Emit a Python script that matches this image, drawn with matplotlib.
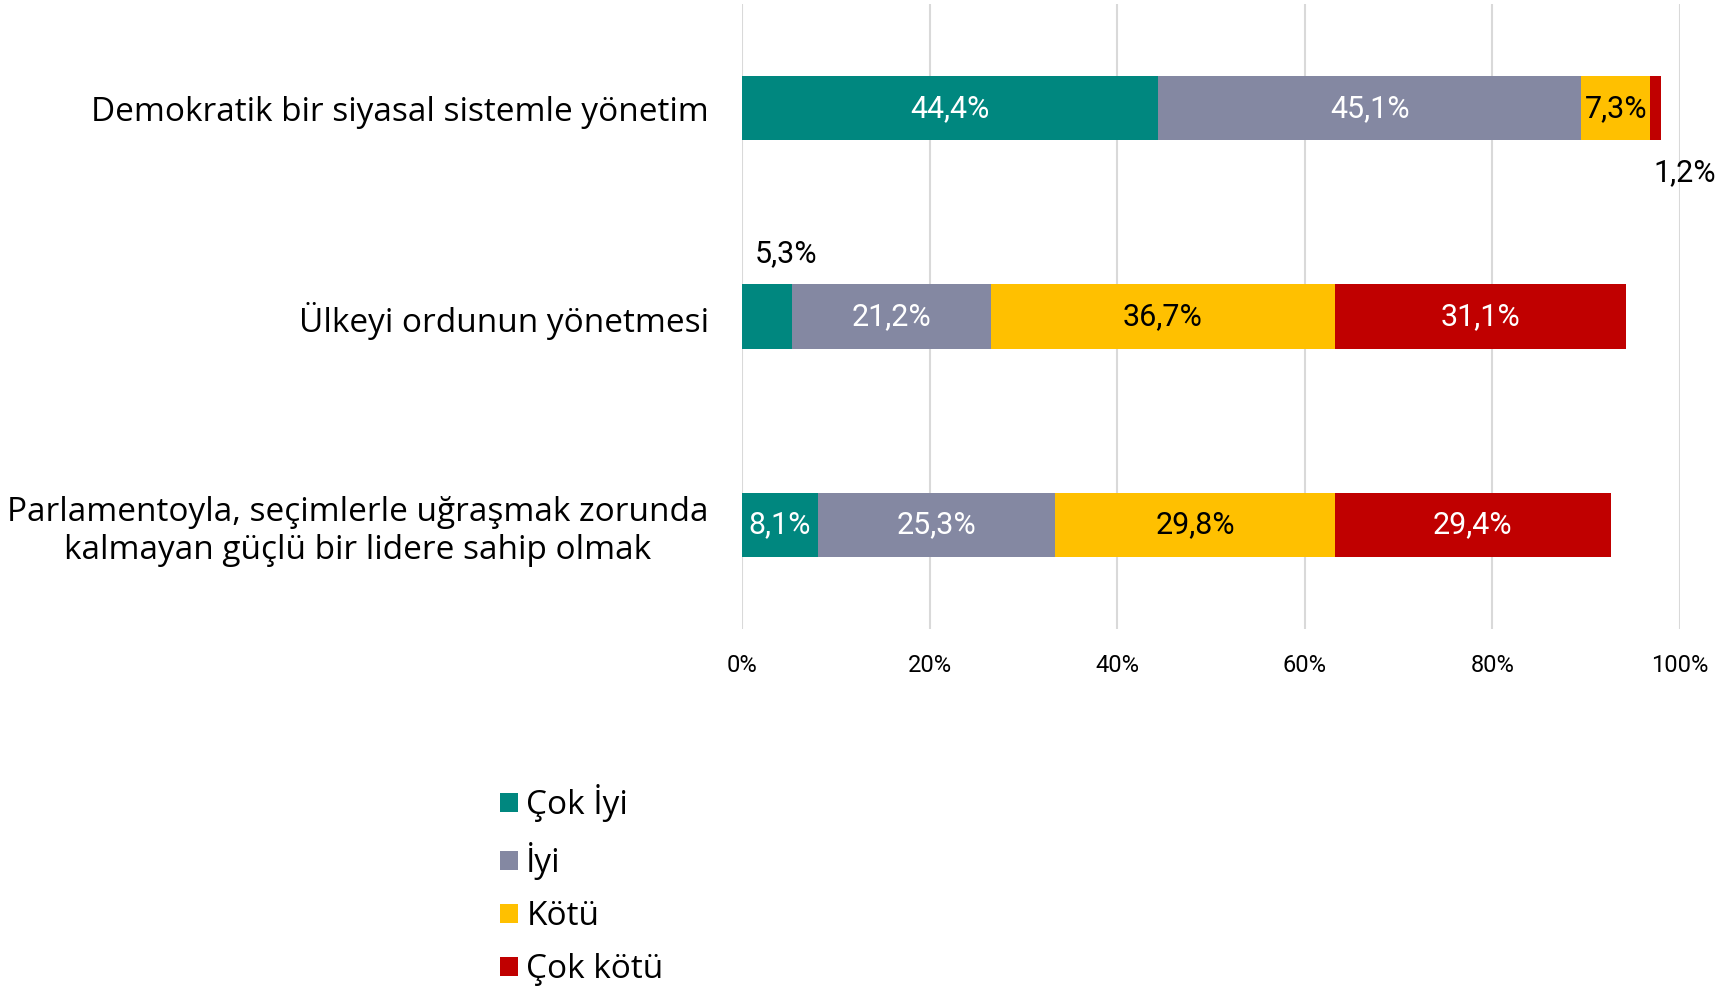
import matplotlib
matplotlib.use("Agg")
import matplotlib.pyplot as plt
from matplotlib.patches import Patch

categories = [
    "Demokratik bir siyasal sistemle yönetim",
    "Ülkeyi ordunun yönetmesi",
    "Parlamentoyla, seçimlerle uğraşmak zorunda\nkalmayan güçlü bir lidere sahip olmak",
]
series_names = ["Çok İyi", "İyi", "Kötü", "Çok kötü"]
cok_iyi = [44.4, 5.3, 8.1]
iyi = [45.1, 21.2, 25.3]
kotu = [7.3, 36.7, 29.8]
cok_kotu = [1.2, 31.1, 29.4]
tick_values = [0, 20, 40, 60, 80, 100]
tick_labels = ["0%", "20%", "40%", "60%", "80%", "100%"]

colors = ["#00877F", "#8488A2", "#FFC000", "#C00000"]
label_colors = ["white", "white", "black", "white"]

main_font = ["Open Sans", "DejaVu Sans"]
num_font = ["Roboto", "DejaVu Sans"]

fig = plt.figure(figsize=(17.31, 9.94), dpi=100)
ax = fig.add_axes([0.4287, 0.367, 0.5418, 0.629])

series = [cok_iyi, iyi, kotu, cok_kotu]
ypos = list(range(len(categories)))
left = [0.0] * len(categories)
bar_h = 0.31
for s_i, vals in enumerate(series):
    ax.barh(ypos, vals, left=left, height=bar_h, color=colors[s_i],
            zorder=3, label=series_names[s_i])
    for c_i, v in enumerate(vals):
        cx = left[c_i] + v / 2
        txt = f"{v:.1f}".replace(".", ",") + "%"
        if v < 2:
            ax.text(left[c_i] + v + 2.5, ypos[c_i] + 0.31, txt, ha="center", va="center",
                    fontsize=22, color="black", family=num_font, zorder=4)
        elif v < 6:
            ax.text(cx + 2.0, ypos[c_i] - 0.30, txt, ha="center", va="center",
                    fontsize=22, color="black", family=num_font, zorder=4)
        else:
            ax.text(cx, ypos[c_i], txt, ha="center", va="center",
                    fontsize=22, color=label_colors[s_i], family=num_font, zorder=4)
    left = [l + v for l, v in zip(left, vals)]

ax.set_xlim(0, 100)
ax.set_ylim(2.5, -0.5)
ax.set_xticks(tick_values)
ax.set_xticklabels(tick_labels, family=num_font, fontsize=17)
ax.set_yticks(ypos)
ax.set_yticklabels(categories, family=main_font, fontsize=24)
for lab in ax.get_yticklabels():
    lab.set_multialignment("center")
    lab.set_linespacing(1.2)
ax.tick_params(axis="y", length=0, pad=24)
ax.tick_params(axis="x", length=0, pad=18)
ax.grid(axis="x", color="#D9D9D9", linewidth=1.5, zorder=0)
for sp in ax.spines.values():
    sp.set_visible(False)

handles = [Patch(facecolor=c, edgecolor="none") for c in colors]
fig.legend(handles, series_names, loc="upper left", bbox_to_anchor=(0.289, 0.211),
           frameon=False, prop={"family": main_font, "size": 24},
           handlelength=0.53, handleheight=0.53, handletextpad=0.25,
           labelspacing=0.6, borderaxespad=0, borderpad=0)

fig.savefig("out.png", dpi=100)
